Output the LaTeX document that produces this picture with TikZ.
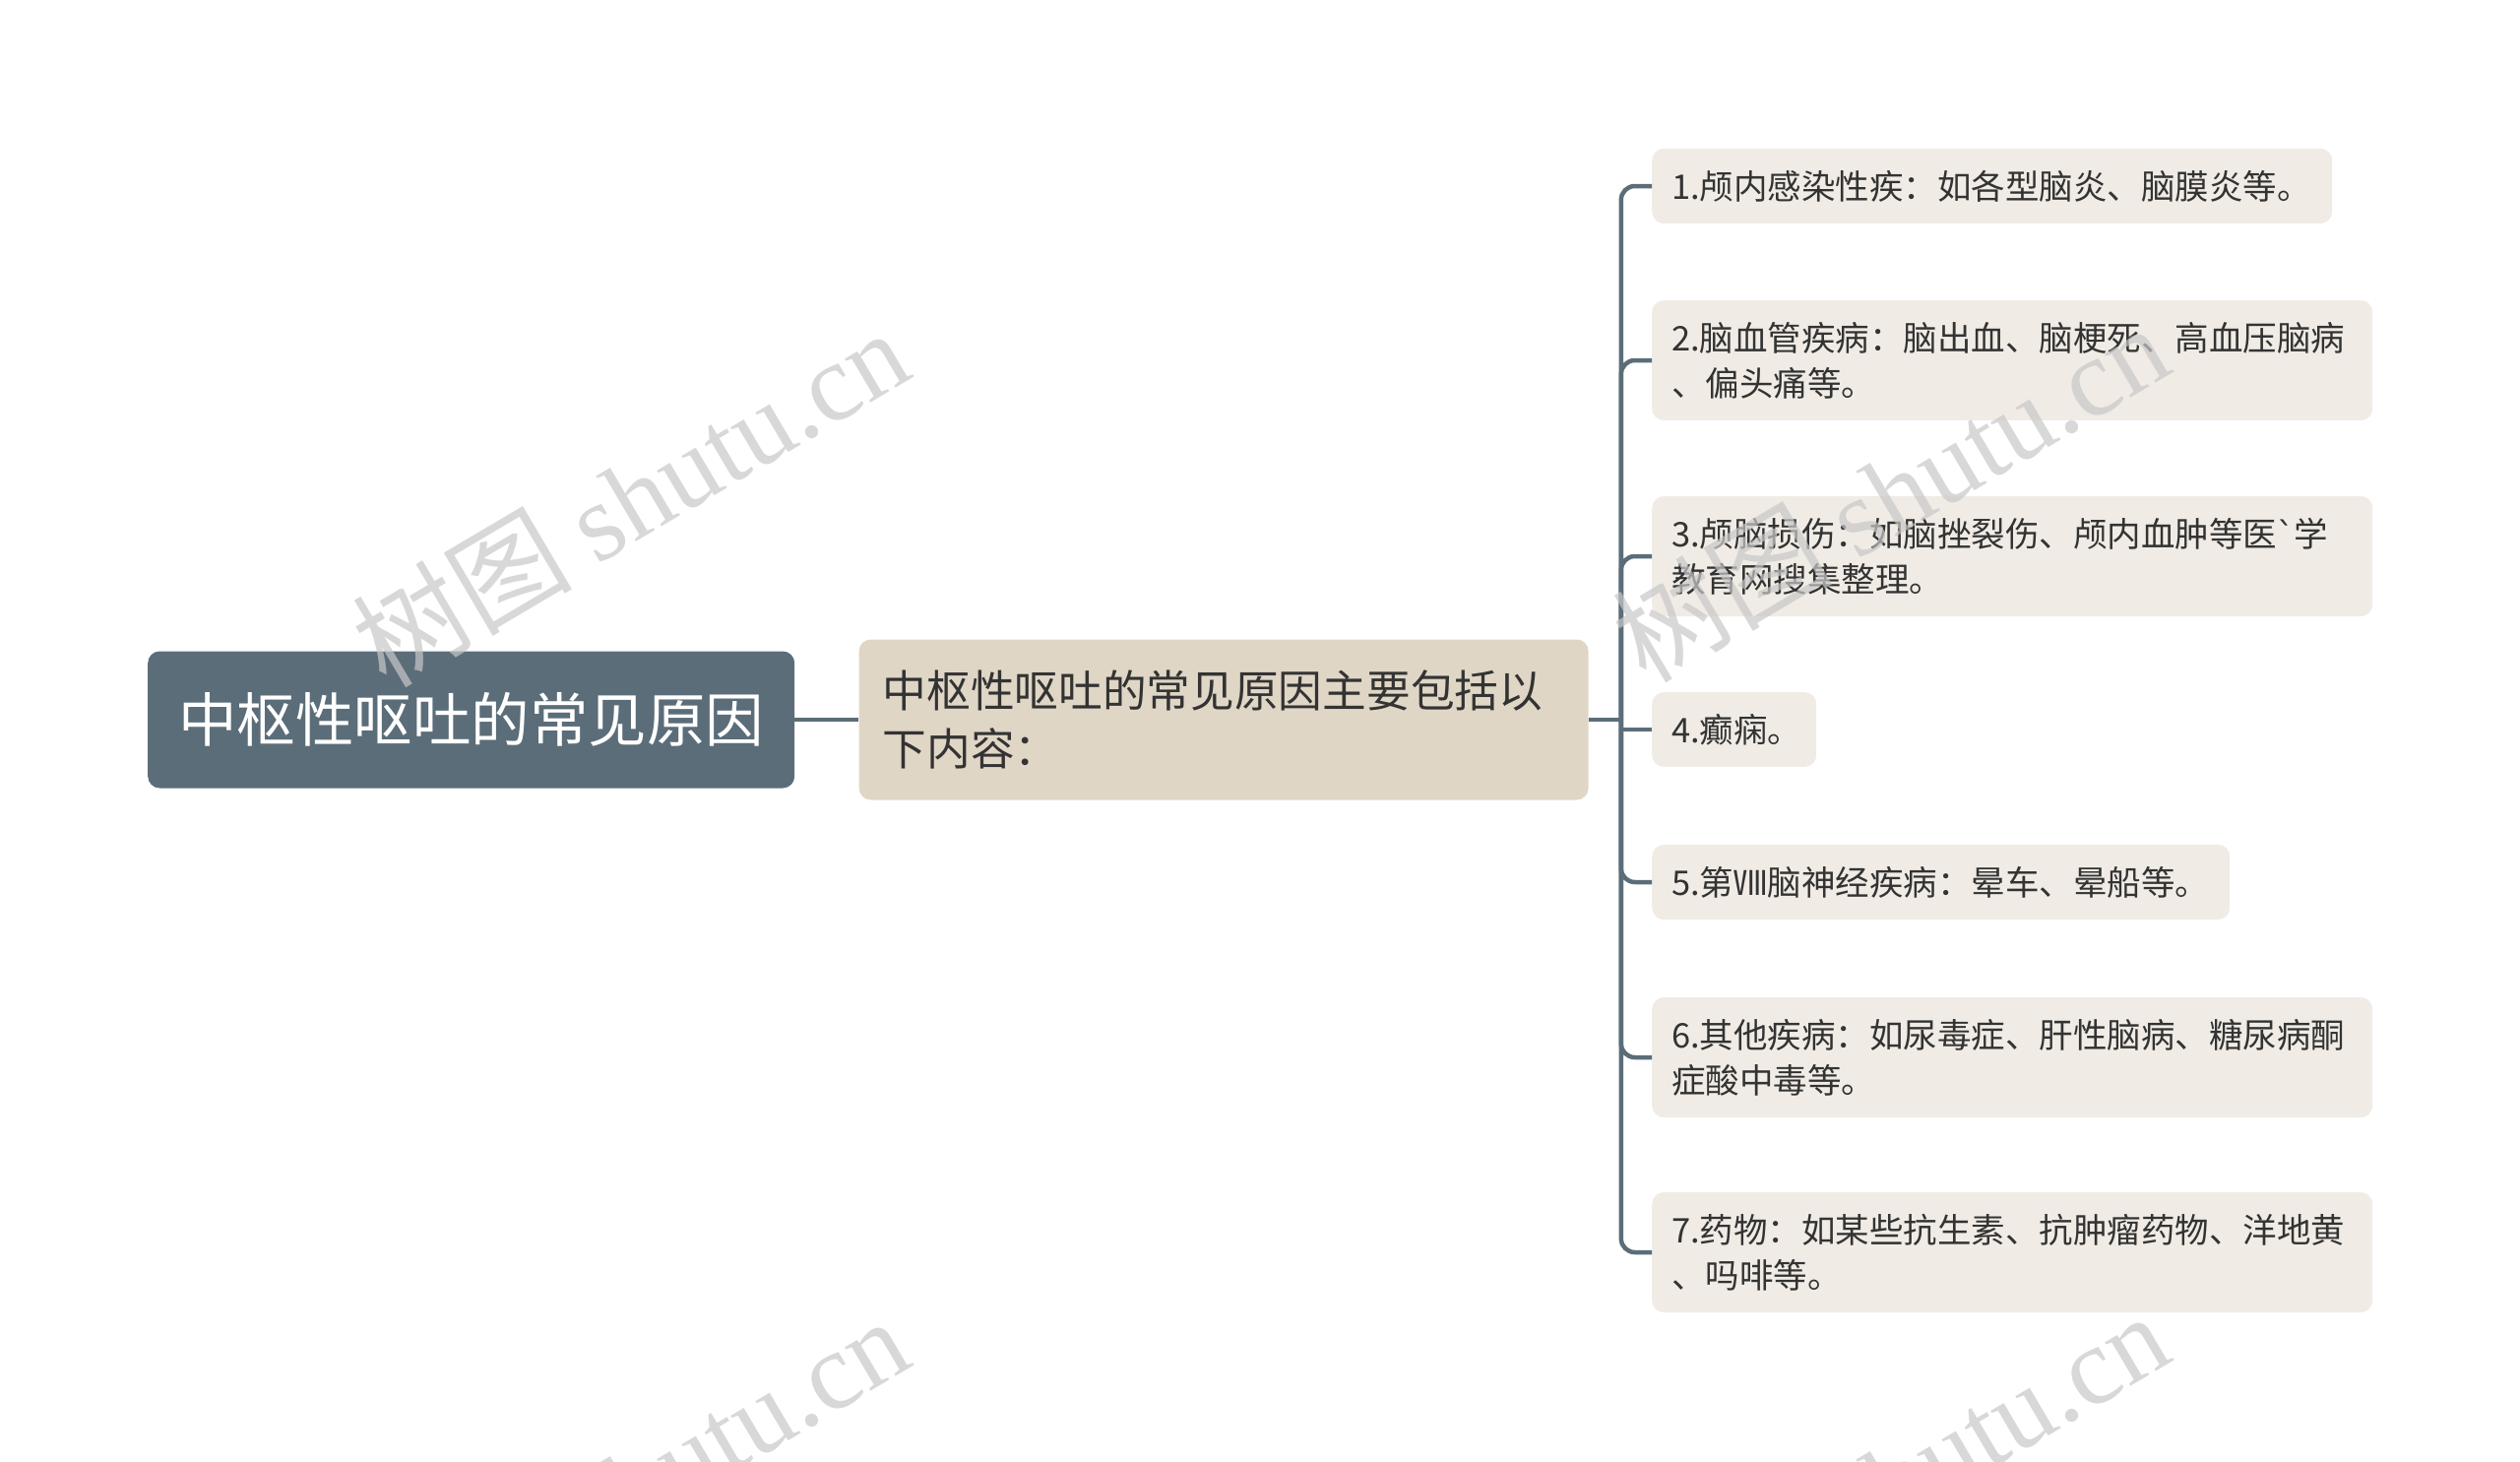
\documentclass[tikz,border=0pt]{standalone}
\usepackage{fontspec}
\setmainfont{Noto Sans CJK SC}
\newfontfamily\markfont{Liberation Serif}
\newfontfamily\tickfont{DejaVu Sans}
\usetikzlibrary{positioning}
\definecolor{slate}{HTML}{5B6D79}
\definecolor{sand}{HTML}{E0D6C6}
\definecolor{paper}{HTML}{F0ECE5}
\definecolor{ink}{HTML}{333333}
\definecolor{markgray}{HTML}{C8C8C8}

\begin{document}
\begin{tikzpicture}[x=1pt,y=-1pt,node distance=65pt,
    root_box/.style={fill=slate, rounded corners=12pt, text=white,
      font=\fontsize{59.5}{74}\selectfont, minimum width=657pt,
      minimum height=139pt, inner sep=0pt},
    mid_box/.style={fill=sand, rounded corners=12pt, text=ink,
      font=\fontsize{44.7}{59}\selectfont, text width=693pt, align=left,
      inner xsep=24pt, minimum height=163pt},
    leaf_box/.style={fill=paper, rounded corners=12pt, text=ink,
      font=\fontsize{34.5}{46}\selectfont, text width=#1, align=left,
      inner xsep=20pt, inner ysep=22pt, anchor=west},
    link/.style={draw=slate, line width=4.5pt, rounded corners=14pt},
    water_mark/.style={text=markgray, rotate=30.6, opacity=0.7,
      font=\fontsize{112}{112}\selectfont}]

  \useasboundingbox (0,0) rectangle (2560,1484);

  \node[root_box, anchor=west] (root) at (150,731) {中枢性呕吐的常见原因};
  \node[mid_box] (mid) [right=65pt of root] {中枢性呕吐的常见原因主要包括以\\下内容：};
  \coordinate[right=33pt of mid] (fork);

  \node[leaf_box=651pt] (leaf_1) at (1678,189) {1.颅内感染性疾：如各型脑炎、脑膜炎等。};
  \node[leaf_box=692pt] (leaf_2) at (1678,366) {2.脑血管疾病：脑出血、脑梗死、高血压脑病\\、偏头痛等。};
  \node[leaf_box=692pt] (leaf_3) at (1678,565) {3.颅脑损伤：如脑挫裂伤、颅内血肿等医{\tickfont\symbol{96}}学\\教育网搜集整理。};
  \node[leaf_box=127pt] (leaf_4) at (1678,741) {4.癫痫。};
  \node[leaf_box=547pt] (leaf_5) at (1678,896) {5.第Ⅷ脑神经疾病：晕车、晕船等。};
  \node[leaf_box=692pt] (leaf_6) at (1678,1074) {6.其他疾病：如尿毒症、肝性脑病、糖尿病酮\\症酸中毒等。};
  \node[leaf_box=692pt] (leaf_7) at (1678,1272) {7.药物：如某些抗生素、抗肿瘤药物、洋地黄\\、吗啡等。};

  \draw[link] (root) -- (mid);
  \draw[link] (mid) -- (fork);
  \draw[link] (fork) |- (leaf_1.west);
  \draw[link] (fork) |- (leaf_2.west);
  \draw[link] (fork) |- (leaf_3.west);
  \draw[link, sharp corners] (fork) |- (leaf_4.west);
  \draw[link] (fork) |- (leaf_5.west);
  \draw[link] (fork) |- (leaf_6.west);
  \draw[link] (fork) |- (leaf_7.west);

  % watermarks
  \node[water_mark] (mark_a) at (640,505) {树图 {\markfont shutu.cn}};
  \node[water_mark] (mark_b) at (1920,500) {树图 {\markfont shutu.cn}};
  \node[water_mark] (mark_c) at (640,1509) {树图 {\markfont shutu.cn}};
  \node[water_mark] (mark_d) at (1920,1504) {树图 {\markfont shutu.cn}};
\end{tikzpicture}
\end{document}
